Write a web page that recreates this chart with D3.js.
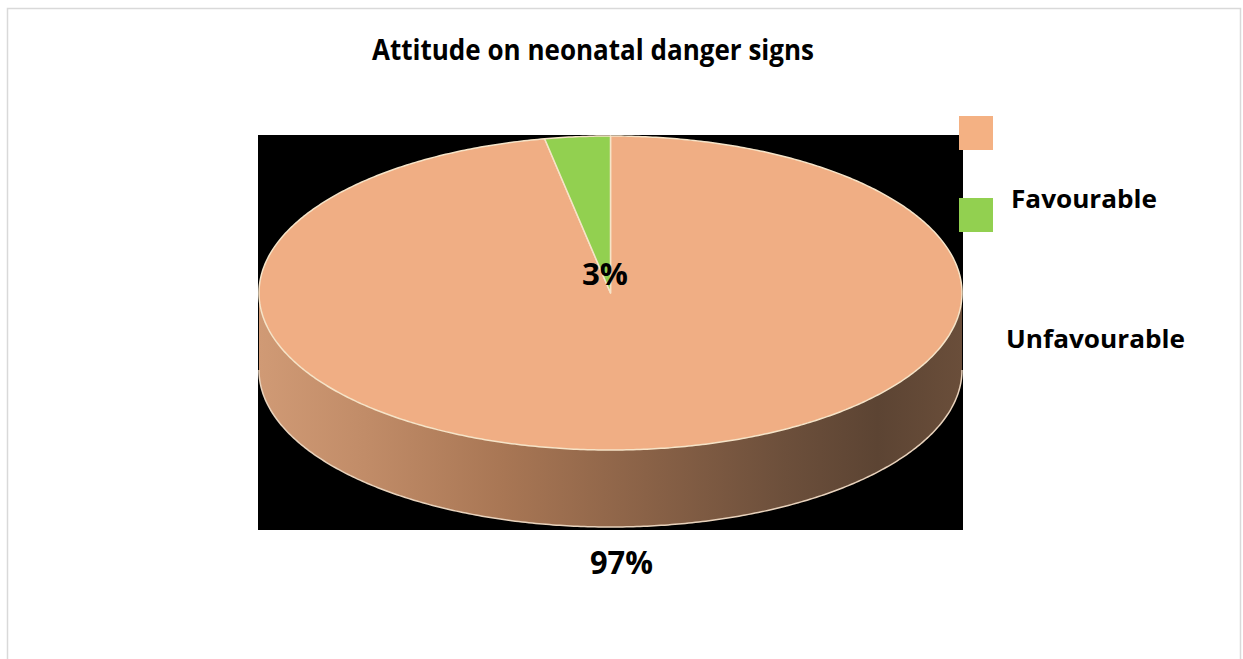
<!DOCTYPE html>
<html>
<head>
<meta charset="utf-8">
<script src="https://cdn.jsdelivr.net/npm/d3@7"></script>
<style>
  body { margin: 0; background: #fff; }
  svg { display: block; font-family: "Open Sans", Lato, sans-serif; font-weight: bold; }
</style>
</head>
<body>
<div id="chart"></div>
<script>
// data
var categories = ["Favourable", "Unfavourable"];
var values = [97, 3];
var labels = ["97%", "3%"];
var colors = ["#f0ae84", "#92d050"];
var legendColors = ["#f4b183", "#92d050"];

var W = 1243, H = 659;

var svg = d3.select("#chart").append("svg")
    .attr("width", W)
    .attr("height", H);

// outer frame
svg.append("rect")
    .attr("x", 7.5).attr("y", 8.5)
    .attr("width", 1233).attr("height", 660)
    .attr("fill", "none")
    .attr("stroke", "#d9d9d9")
    .attr("stroke-width", 1.5);

// plot area (black)
svg.append("rect")
    .attr("x", 258).attr("y", 135)
    .attr("width", 705).attr("height", 395)
    .attr("fill", "#000");

// title
svg.append("text")
    .attr("x", 372).attr("y", 60)
    .attr("font-size", 28)
    .attr("textLength", 442)
    .attr("lengthAdjust", "spacingAndGlyphs")
    .text("Attitude on neonatal danger signs");

var cx = 610.5, cy = 293, rx = 351.5, ry = 157, depth = 77;

var pie = d3.pie().sort(null).value(function (d) { return d; });
var arcs = pie(values);

// elliptical projection of a pie angle
function pt(a, dy) {
    return [cx + rx * Math.sin(a), cy - ry * Math.cos(a) + (dy || 0)];
}

function arcPoints(a0, a1, dy) {
    var n = Math.max(2, Math.ceil(Math.abs(a1 - a0) / 0.01));
    var pts = [];
    for (var i = 0; i <= n; i++) pts.push(pt(a0 + (a1 - a0) * i / n, dy));
    return pts;
}

var line = d3.line();

// side gradient
var defs = svg.append("defs");
var grad = defs.append("linearGradient")
    .attr("id", "side")
    .attr("gradientUnits", "userSpaceOnUse")
    .attr("x1", cx - rx).attr("x2", cx + rx)
    .attr("y1", 0).attr("y2", 0);
[[0, "#d09a75"], [0.15, "#c18c68"], [0.35, "#a87654"], [0.55, "#8a6247"],
 [0.75, "#6c4f3b"], [0.88, "#5c4433"], [1, "#6a4e3a"]].forEach(function (s) {
    grad.append("stop").attr("offset", s[0]).attr("stop-color", s[1]);
});

// sides (front half only, angles pi/2 .. 3pi/2)
arcs.forEach(function (d, i) {
    var a0 = Math.max(d.startAngle, Math.PI / 2);
    var a1 = Math.min(d.endAngle, 3 * Math.PI / 2);
    if (a1 <= a0) return;
    var top = arcPoints(a0, a1, 0);
    var bot = arcPoints(a1, a0, depth);
    svg.append("path")
        .attr("d", line(top.concat(bot)) + "Z")
        .attr("fill", i === 0 ? "url(#side)" : "#6a9a3a");
    svg.append("path")
        .attr("d", line(arcPoints(a0, a1, depth)))
        .attr("fill", "none")
        .attr("stroke", "#e8d2bc")
        .attr("stroke-width", 1.5);
});

// top faces
arcs.forEach(function (d, i) {
    var pts = [[cx, cy]].concat(arcPoints(d.startAngle, d.endAngle, 0));
    svg.append("path")
        .attr("d", line(pts) + "Z")
        .attr("fill", colors[i])
        .attr("stroke", "#f6e4c8")
        .attr("stroke-width", 1.5)
        .attr("stroke-linejoin", "round");
});

// data labels
svg.append("text")
    .attr("x", 582).attr("y", 285)
    .attr("font-size", 31)
    .attr("textLength", 46)
    .attr("lengthAdjust", "spacingAndGlyphs")
    .text(labels[1]);
svg.append("text")
    .attr("x", 590).attr("y", 574)
    .attr("font-size", 33)
    .attr("textLength", 63)
    .attr("lengthAdjust", "spacingAndGlyphs")
    .text(labels[0]);

// legend (squares and texts as laid out in the original)
svg.selectAll(".legsq")
    .data(categories)
    .enter().append("rect")
    .attr("class", "legsq")
    .attr("x", 959)
    .attr("y", function (d, i) { return 116 + i * 82; })
    .attr("width", 34).attr("height", 34)
    .attr("fill", function (d, i) { return legendColors[i]; });

var legText = [{ x: 1011, y: 208, w: 146 }, { x: 1006, y: 348, w: 179 }];
svg.selectAll(".legtx")
    .data(categories)
    .enter().append("text")
    .attr("class", "legtx")
    .attr("x", function (d, i) { return legText[i].x; })
    .attr("y", function (d, i) { return legText[i].y; })
    .attr("font-size", 25)
    .attr("textLength", function (d, i) { return legText[i].w; })
    .attr("lengthAdjust", "spacingAndGlyphs")
    .text(function (d) { return d; });
</script>
</body>
</html>
